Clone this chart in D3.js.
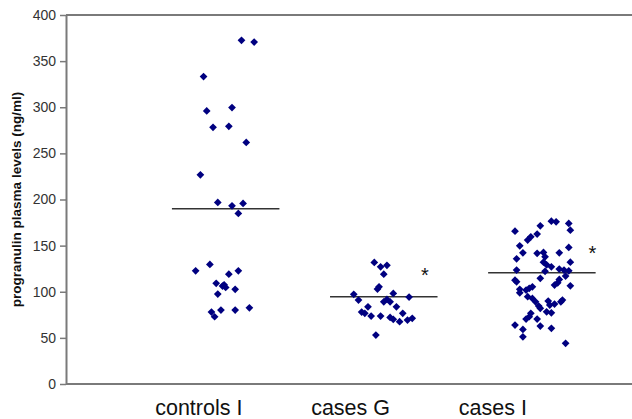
<!DOCTYPE html>
<html>
<head>
<meta charset="utf-8">
<script src="https://cdn.jsdelivr.net/npm/d3@7"></script>
<style>
  html, body { margin: 0; padding: 0; background: #fff; }
  svg { display: block; font-family: "Liberation Sans", Arial, sans-serif; }
</style>
</head>
<body>
<svg id="chart" width="632" height="419"></svg>
<script>
// Group labels and where they sit on the x axis (group centres at 1, 2, 3).
const categories = ['controls I', 'cases G', 'cases I'];
const labelPos   = [0.84, 1.80, 2.70];
const groupPos   = [1, 2, 3];
const means      = [190, 94.6, 120.5];

// Jittered x position and plasma level (ng/ml) for each subject.
const controlsX = [1.11, 1.19, 0.87, 0.89, 1.05, 0.93, 1.03, 1.14, 0.85, 0.96, 1.05, 1.12, 1.09,
                   0.82, 0.91, 1.03, 1.09, 0.95, 1.00, 1.01, 0.99, 1.07, 0.96, 0.92, 0.94, 0.98, 1.07, 1.16];
const controlsY = [372.6, 370.7, 333.3, 296.0, 299.7, 278.3, 279.4, 261.8, 226.7, 196.8, 193.1, 195.7, 184.9,
                   122.7, 129.6, 119.1, 122.7, 109.1, 107.5, 104.7, 106.1, 102.6, 97.5, 78.0, 72.9, 80.1, 80.1, 82.6];

const casesGX = [1.95, 1.99, 2.03, 2.01, 1.98, 1.97, 1.82, 1.85, 2.07, 2.17, 2.01, 2.03, 2.05,
                 2.09, 1.91, 1.87, 1.89, 1.93, 1.99, 2.05, 2.07, 2.13, 2.11, 2.16, 2.19, 1.96];
const casesGY = [131.8, 127.0, 128.6, 119.1, 105.4, 102.9, 97.2, 91.0, 98.2, 94.2, 89.1, 91.7, 89.1,
                 83.7, 83.7, 78.0, 76.6, 73.6, 73.6, 72.2, 70.1, 76.6, 67.5, 69.3, 71.2, 53.1];

const casesIX = [2.84, 3.00, 3.07, 3.10, 3.18, 3.19, 2.98, 2.94, 2.92, 2.87, 2.89, 2.98, 3.02, 3.03,
                 3.12, 3.18, 2.85, 3.02, 3.04, 3.07, 3.19, 2.85, 3.03, 3.12, 3.15, 3.18, 3.16, 3.00,
                 2.84, 2.85, 3.12, 3.11, 3.09, 3.19, 2.95, 2.93, 2.91, 2.87, 2.87, 2.92, 2.95, 2.97,
                 2.99, 3.00, 3.05, 3.06, 3.09, 3.13, 3.14, 3.04, 3.07, 2.94, 2.93, 2.91, 2.98, 2.84,
                 3.00, 2.89, 3.07, 2.89, 3.16];
const casesIY = [165.7, 171.5, 176.5, 175.8, 174.0, 166.8, 162.5, 159.5, 156.0, 149.8, 142.2, 141.6, 142.6, 137.9,
                 142.2, 148.1, 135.7, 132.1, 129.2, 127.0, 132.1, 123.5, 122.1, 124.6, 123.5, 122.7, 117.0, 114.5,
                 112.6, 110.8, 113.4, 109.7, 107.2, 106.5, 105.4, 103.7, 101.8, 102.6, 98.9, 94.6, 92.8, 89.1,
                 84.5, 82.0, 89.9, 85.6, 86.6, 89.1, 91.0, 78.3, 77.2, 76.6, 72.9, 70.4, 70.4, 63.9,
                 62.8, 59.2, 60.3, 51.2, 44.1];

// Significance marks: [x, level]
const starX = [2.27, 3.33];
const starY = [121, 145];

const yTicks = d3.range(0, 401, 50);

const svg = d3.select('#chart');
const W = 632, H = 419;
const margin = { top: 15, right: 0, bottom: 35, left: 66 };

const x = d3.scaleLinear().domain([0, 3.58]).range([margin.left, W - margin.right]);
const y = d3.scaleLinear().domain([0, 400]).range([H - margin.bottom, margin.top]);

const axisColor = '#7a7a7a';

// Top frame line
svg.append('line')
  .attr('x1', x(0)).attr('x2', x(3.58))
  .attr('y1', y(400)).attr('y2', y(400))
  .attr('stroke', axisColor).attr('stroke-width', 2);

// Y axis
const yAxis = svg.append('g')
  .attr('transform', `translate(${x(0)},0)`)
  .call(d3.axisLeft(y).tickValues(yTicks).tickSize(6).tickPadding(4).tickSizeOuter(0));
yAxis.select('.domain').attr('stroke', axisColor).attr('stroke-width', 2);
yAxis.selectAll('.tick line').attr('stroke', axisColor).attr('stroke-width', 1.5);
yAxis.selectAll('.tick text')
  .attr('fill', '#333').style('font-size', '14px')
  .style('font-family', '"Liberation Sans", Arial, sans-serif');

// X axis line (no ticks)
svg.append('line')
  .attr('x1', x(0)).attr('x2', x(3.58))
  .attr('y1', y(0)).attr('y2', y(0))
  .attr('stroke', axisColor).attr('stroke-width', 2);

// Category labels
svg.append('g').selectAll('text')
  .data(categories)
  .join('text')
  .attr('x', (d, i) => x(labelPos[i]))
  .attr('y', 415)
  .attr('text-anchor', 'middle')
  .attr('fill', '#111')
  .style('font-size', '21.5px')
  .text(d => d);

// Y title
svg.append('text')
  .attr('transform', `translate(21,${y(200)}) rotate(-90)`)
  .attr('text-anchor', 'middle')
  .attr('fill', '#111')
  .style('font-size', '13.5px')
  .style('font-weight', 'bold')
  .text('progranulin plasma levels (ng/ml)');

// Mean lines
svg.append('g').selectAll('line')
  .data(means)
  .join('line')
  .attr('x1', (d, i) => x(groupPos[i] - 0.33))
  .attr('x2', (d, i) => x(groupPos[i] + 0.35))
  .attr('y1', d => y(d)).attr('y2', d => y(d))
  .attr('stroke', '#333').attr('stroke-width', 1.5);

// Points
const groups = [[controlsX, controlsY], [casesGX, casesGY], [casesIX, casesIY]];
const pts = groups.flatMap(([xs, ys]) => xs.map((v, i) => ({ x: v, y: ys[i] })));
const diamond = d3.symbol().type(d3.symbolSquare).size(30)();

svg.append('g').selectAll('path')
  .data(pts)
  .join('path')
  .attr('d', diamond)
  .attr('transform', d => `translate(${x(d.x)},${y(d.y)}) rotate(45)`)
  .attr('fill', '#000080');

// Asterisks
svg.append('g').selectAll('text')
  .data(starX)
  .join('text')
  .attr('x', d => x(d))
  .attr('y', (d, i) => y(starY[i]) + 10)
  .attr('text-anchor', 'middle')
  .attr('fill', '#111')
  .style('font-size', '20px')
  .text('*');
</script>
</body>
</html>
